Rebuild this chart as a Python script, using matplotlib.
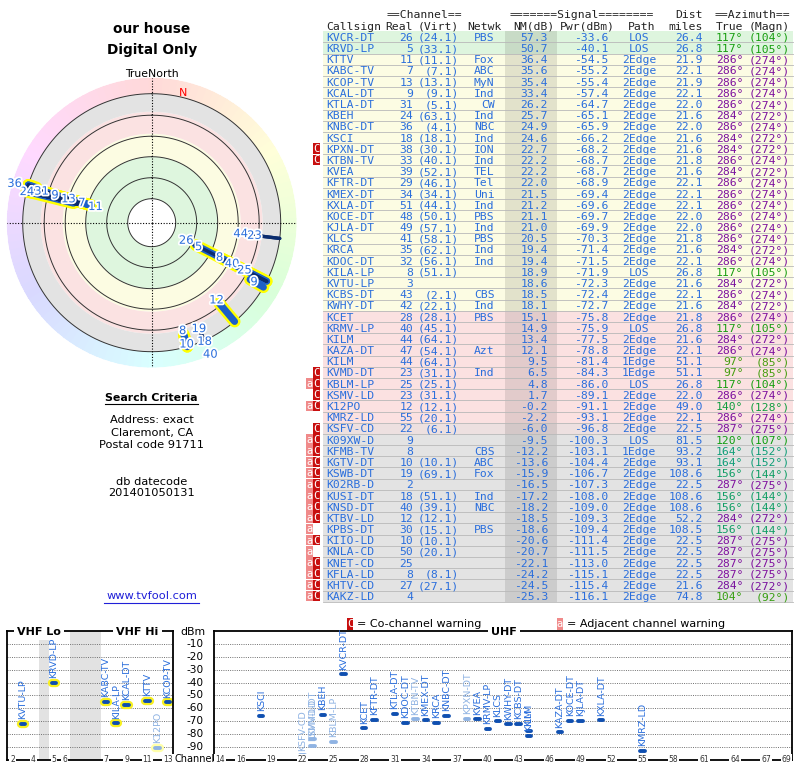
import numpy as np
import colorsys
import matplotlib
matplotlib.use("Agg")
import matplotlib.pyplot as plt
from matplotlib.patches import Rectangle
import matplotlib.patheffects as pe
from matplotlib.transforms import blended_transform_factory

# ---------------- data ----------------
callsigns = ["KVCR-DT", "KRVD-LP", "KTTV", "KABC-TV", "KCOP-TV", "KCAL-DT", "KTLA-DT", "KBEH",
             "KNBC-DT", "KSCI", "KPXN-DT", "KTBN-TV", "KVEA", "KFTR-DT", "KMEX-DT", "KXLA-DT",
             "KOCE-DT", "KJLA-DT", "KLCS", "KRCA", "KDOC-DT", "KILA-LP", "KVTU-LP", "KCBS-DT",
             "KWHY-DT", "KCET", "KRMV-LP", "KILM", "KAZA-DT", "KILM", "KVMD-DT", "KBLM-LP",
             "KSMV-LD", "K12PO", "KMRZ-LD", "KSFV-CD", "K09XW-D", "KFMB-TV", "KGTV-DT", "KSWB-DT",
             "K02RB-D", "KUSI-DT", "KNSD-DT", "KTBV-LD", "KPBS-DT", "KIIO-LD", "KNLA-CD", "KNET-CD",
             "KFLA-LD", "KHTV-CD", "KAKZ-LD"]
real_ch = [26, 5, 11, 7, 13, 9, 31, 24, 36, 18, 38, 33, 39, 29, 34, 51, 48, 49, 41, 35, 32, 8, 3, 43,
           42, 28, 40, 44, 47, 44, 23, 25, 23, 12, 55, 22, 9, 8, 10, 19, 2, 18, 40, 12, 30, 10, 50, 25,
           8, 27, 4]
virt_ch = ["24.1", "33.1", "11.1", "7.1", "13.1", "9.1", "5.1", "63.1", "4.1", "18.1", "30.1", "40.1",
           "52.1", "46.1", "34.1", "44.1", "50.1", "57.1", "58.1", "62.1", "56.1", "51.1", "", "2.1",
           "22.1", "28.1", "45.1", "64.1", "54.1", "64.1", "31.1", "25.1", "31.1", "12.1", "20.1", "6.1",
           "", "", "10.1", "69.1", "", "51.1", "39.1", "12.1", "15.1", "10.1", "20.1", "", "8.1", "27.1", ""]
networks = ["PBS", "", "Fox", "ABC", "MyN", "Ind", "CW", "Ind", "NBC", "Ind", "ION", "Ind", "TEL", "Tel",
            "Uni", "Ind", "PBS", "Ind", "PBS", "Ind", "Ind", "", "", "CBS", "Ind", "PBS", "", "", "Azt",
            "", "Ind", "", "", "", "", "", "", "CBS", "ABC", "Fox", "", "Ind", "NBC", "", "PBS", "", "",
            "", "", "", ""]
nm_db = [57.3, 50.7, 36.4, 35.6, 35.4, 33.4, 26.2, 25.7, 24.9, 24.6, 22.7, 22.2, 22.2, 22.0, 21.5, 21.2,
         21.1, 21.0, 20.5, 19.4, 19.4, 18.9, 18.6, 18.5, 18.1, 15.1, 14.9, 13.4, 12.1, 9.5, 6.5, 4.8,
         1.7, -0.2, -2.2, -6.0, -9.5, -12.2, -13.6, -15.9, -16.5, -17.2, -18.2, -18.5, -18.6, -20.6,
         -20.7, -22.1, -24.2, -24.5, -25.3]
pwr_dbm = [-33.6, -40.1, -54.5, -55.2, -55.4, -57.4, -64.7, -65.1, -65.9, -66.2, -68.2, -68.7, -68.7,
           -68.9, -69.4, -69.6, -69.7, -69.9, -70.3, -71.4, -71.5, -71.9, -72.3, -72.4, -72.7, -75.8,
           -75.9, -77.5, -78.8, -81.4, -84.3, -86.0, -89.1, -91.1, -93.1, -96.8, -100.3, -103.1, -104.4,
           -106.7, -107.3, -108.0, -109.0, -109.3, -109.4, -111.4, -111.5, -113.0, -115.1, -115.4, -116.1]
paths = ["LOS", "LOS", "2Edge", "2Edge", "2Edge", "2Edge", "2Edge", "2Edge", "2Edge", "2Edge", "2Edge",
         "2Edge", "2Edge", "2Edge", "2Edge", "2Edge", "2Edge", "2Edge", "2Edge", "2Edge", "2Edge", "LOS",
         "2Edge", "2Edge", "2Edge", "2Edge", "LOS", "2Edge", "2Edge", "1Edge", "1Edge", "LOS", "2Edge",
         "2Edge", "2Edge", "2Edge", "LOS", "1Edge", "2Edge", "2Edge", "2Edge", "2Edge", "2Edge", "2Edge",
         "2Edge", "2Edge", "2Edge", "2Edge", "2Edge", "2Edge", "2Edge"]
dist_mi = [26.4, 26.8, 21.9, 22.1, 21.9, 22.1, 22.0, 21.6, 22.0, 21.6, 21.6, 21.8, 21.6, 22.1, 22.1, 22.1,
           22.0, 22.0, 21.8, 21.6, 22.1, 26.8, 21.6, 22.1, 21.6, 21.8, 26.8, 21.6, 22.1, 51.1, 51.1, 26.8,
           22.0, 49.0, 22.1, 22.5, 81.5, 93.2, 93.1, 108.6, 22.5, 108.6, 108.6, 52.2, 108.5, 22.5, 22.5,
           22.5, 22.5, 21.6, 74.8]
az_true = [117, 117, 286, 286, 286, 286, 286, 284, 286, 284, 284, 286, 284, 286, 286, 286, 286, 286, 286,
           284, 286, 117, 284, 286, 284, 286, 117, 284, 286, 97, 97, 117, 286, 140, 286, 287, 120, 164,
           164, 156, 287, 156, 156, 284, 156, 287, 287, 287, 287, 284, 104]
az_magn = [104, 105, 274, 274, 274, 274, 274, 272, 274, 272, 272, 274, 272, 274, 274, 274, 274, 274, 274,
           272, 274, 105, 272, 274, 272, 274, 105, 272, 274, 85, 85, 104, 274, 128, 274, 275, 107, 152,
           152, 144, 275, 144, 144, 272, 144, 275, 275, 275, 275, 272, 92]
warnings = ["", "", "", "", "", "", "", "", "", "", "C", "C", "", "", "", "", "", "", "", "", "", "", "",
            "", "", "", "", "", "", "", "C", "aC", "C", "aC", "", "C", "aC", "aC", "aC", "aC", "aC", "aC",
            "aC", "aC", "a", "aC", "a", "aC", "aC", "aC", "aC"]

vhf_ticks = [2, 4, 5, 6, 7, 9, 11, 13]
uhf_ticks = [14, 16, 19, 22, 25, 28, 31, 34, 37, 40, 43, 46, 49, 52, 55, 58, 61, 64, 67, 69]
dbm_ticks = [-10, -20, -30, -40, -50, -60, -70, -80, -90]

# ---------------- figure ----------------
W, H = 800, 768
fig = plt.figure(figsize=(W / 100, H / 100), dpi=100)
ax0 = fig.add_axes([0, 0, 1, 1])
ax0.set_xlim(0, W)
ax0.set_ylim(H, 0)
ax0.axis("off")

MONO = "DejaVu Sans Mono"
BLUE = "#2a6edc"


def ftxt(x, y, s, **kw):
    return fig.text(x / W, 1 - y / H, s, **kw)


def az_color(a, s=0.9, v=0.62):
    return colorsys.hsv_to_rgb((a % 360) / 360.0, s, v)


# ---------------- titles ----------------
ax0.text(151.7, 29, "our house", ha="center", va="center", fontsize=9.8, fontweight="bold")
ax0.text(151.7, 50, "Digital Only", ha="center", va="center", fontsize=9.8, fontweight="bold")
ax0.text(151.7, 74, "TrueNorth", ha="center", va="center", fontsize=7.8)

# ---------------- polar plot ----------------
cx, cy, R = 151.7, 222.7, 145.0
pax = fig.add_axes([(cx - R) / W, (H - cy - R) / H, 2 * R / W, 2 * R / H], projection="polar")
pax.set_theta_zero_location("N")
pax.set_theta_direction(-1)
pax.set_ylim(0, R)
pax.axis("off")

for k in range(120):
    b = k * 3
    pax.bar(np.deg2rad(b), 16, width=np.deg2rad(3.5), bottom=129, lw=0,
            color=colorsys.hsv_to_rgb(b / 360.0, 0.15, 1.0), zorder=0.5)
bands = [(0, 24, "white"), (24, 66, "#def6de"), (66, 89, "#fcfce2"), (89, 111, "#fbe2e2"),
         (111, 129, "#e3e3e3")]
for r0, r1, c in bands:
    pax.bar(0, r1 - r0, width=2 * np.pi, bottom=r0, color=c, lw=0, zorder=0.6)
tt = np.linspace(0, 2 * np.pi, 500)
for rr in [24, 45, 66, 86.5, 107.5, 129]:
    pax.plot(tt, np.full_like(tt, rr), color="#333333", lw=0.7, zorder=1)
for th in [0, 90, 180, 270]:
    pax.plot([np.deg2rad(th)] * 2, [0, R], color="black", lw=0.8, ls=(0, (1, 1.5)), zorder=1.2)
pax.text(np.deg2rad(13.5), 133, "N", color="red", fontsize=8, ha="center", va="center", zorder=2)


def r_of(nm):
    return float(np.interp(nm, [-25, -10, 5, 19, 36, 50, 60], [129, 114, 100, 80, 63, 50, 40]))


n = len(callsigns)
shown = [i for i in range(n) if nm_db[i] > -25]
vhf = [i for i in shown if real_ch[i] <= 13]
uhf = [i for i in shown if real_ch[i] > 13]
for i in vhf:
    th = np.deg2rad(az_true[i])
    pax.plot([th, th], [r_of(nm_db[i]), 129], color="#ffff00", lw=8.5, solid_capstyle="round",
             zorder=2.8)
for i in vhf:
    th = np.deg2rad(az_true[i])
    pax.plot([th, th], [r_of(nm_db[i]), 129], color="#1c5fc8", lw=5.0, solid_capstyle="round",
             zorder=3)
for i in uhf:
    th = np.deg2rad(az_true[i])
    pax.plot([th, th], [r_of(nm_db[i]), 129], color="#0b2c6e", lw=2.4, solid_capstyle="round",
             zorder=3.2)

# label placement, grouped by direction
order = sorted(shown, key=lambda i: az_true[i])
groups, cur = [], [order[0]]
for i in order[1:]:
    if az_true[i] - az_true[cur[-1]] <= 4:
        cur.append(i)
    else:
        groups.append(cur)
        cur = [i]
groups.append(cur)
for g in groups:
    g = sorted(g, key=lambda i: -nm_db[i])
    prev = -1e9
    for i in g:
        rl = max(r_of(nm_db[i]) - 4, prev + 14)
        if rl > 145:
            break
        prev = rl
        pax.text(np.deg2rad(az_true[i]), rl, str(real_ch[i]), color=BLUE, fontsize=8.3,
                 ha="center", va="center", zorder=5,
                 path_effects=[pe.withStroke(linewidth=2.6, foreground="white")])

# ---------------- search criteria ----------------
ax0.text(151.7, 398, "Search Criteria", ha="center", va="center", fontsize=7.9, fontweight="bold")
ax0.plot([105, 198], [403.8, 403.8], color="black", lw=0.8)
for yy, s in [(420, "Address: exact"), (432.7, "Claremont, CA"), (445, "Postal code 91711"),
              (482, "db datecode"), (493.5, "201401050131")]:
    ax0.text(151.7, yy, s, ha="center", va="center", fontsize=8.2)
ax0.text(151.7, 596, "www.tvfool.com", ha="center", va="center", fontsize=8.2, color="#2020d8")
ax0.plot([104, 199], [602.5, 602.5], color="#2020d8", lw=0.8)

# ---------------- table ----------------
fs_t = 8.2
hdr1 = [(424, "==Channel==", "center"), (581.7, "=======Signal========", "center"),
        (703, "Dist", "right"), (790, "==Azimuth==", "right")]
hdr2 = [(326, "Callsign", "left"), (413, "Real", "right"), (459, "(Virt)", "right"),
        (502, "Netwk", "right"), (555, "NM(dB)", "right"), (615, "Pwr(dBm)", "right"),
        (642, "Path", "center"), (703, "miles", "right"), (743.5, "True", "right"),
        (790, "(Magn)", "right")]
for x, s, ha in hdr1:
    ax0.text(x, 14 + 4.1, s, ha=ha, va="baseline", family=MONO, fontsize=fs_t, color="#222222")
for x, s, ha in hdr2:
    ax0.text(x, 25.5 + 4.1, s, ha=ha, va="baseline", family=MONO, fontsize=fs_t, color="#222222")

zone_cols = {"g": ("#def5de", "#c8dbc6"), "y": ("#fcfce3", "#e2e2cb"), "p": ("#fbe1e1", "#e2cbcb"),
             "pg": ("#ede0e0", "#d4c8c8"), "k": ("#e3e3e3", "#cccccc")}


def zone(nm):
    if nm >= 40:
        return "g"
    if nm >= 16:
        return "y"
    if nm >= -3:
        return "p"
    if nm >= -8:
        return "pg"
    return "k"


row_y0, row_h = 36.8, 11.186
for i in range(n):
    yc = row_y0 + i * row_h
    bg, bd = zone_cols[zone(nm_db[i])]
    ax0.add_patch(Rectangle((323, yc - row_h / 2), 470, row_h, facecolor=bg, lw=0, zorder=0.5))
    ax0.add_patch(Rectangle((505, yc - row_h / 2), 52, row_h, facecolor=bd, lw=0, zorder=0.6))
    ax0.plot([323, 793], [yc + row_h / 2] * 2, color="#b8b8b8", lw=0.6, zorder=0.7)
    w = warnings[i]
    if "a" in w:
        ax0.add_patch(Rectangle((306, yc - 5.3), 6.6, 10.6, facecolor="#f08a8a", lw=0, zorder=1))
        ax0.text(309.3, yc + 3.4, "a", ha="center", va="baseline", family=MONO, fontsize=7.5,
                 color="white", zorder=2)
    if "C" in w:
        ax0.add_patch(Rectangle((312.7, yc - 5.3), 6.8, 10.6, facecolor="#c80f0f", lw=0, zorder=1))
        ax0.text(316.1, yc + 3.4, "C", ha="center", va="baseline", family=MONO, fontsize=7.5,
                 color="white", zorder=2)
    yb = yc + 4.1
    kw = dict(va="baseline", family=MONO, fontsize=fs_t, color=BLUE, zorder=2)
    ax0.text(326, yb, callsigns[i], ha="left", **kw)
    ax0.text(413, yb, str(real_ch[i]), ha="right", **kw)
    if virt_ch[i]:
        ax0.text(459, yb, "(" + virt_ch[i] + ")", ha="right", **kw)
    ax0.text(494.5, yb, networks[i], ha="right", **kw)
    ax0.text(548, yb, f"{nm_db[i]:.1f}", ha="right", **kw)
    ax0.text(608, yb, f"{pwr_dbm[i]:.1f}", ha="right", **kw)
    ax0.text(639.3, yb, paths[i], ha="center", **kw)
    ax0.text(703, yb, f"{dist_mi[i]:.1f}", ha="right", **kw)
    kw2 = dict(kw)
    kw2["color"] = az_color(az_true[i])
    ax0.text(743.5, yb, f"{az_true[i]}\u00b0", ha="right", **kw2)
    ax0.text(790, yb, f"({az_magn[i]}\u00b0)", ha="right", **kw2)

# ---------------- spectrum ----------------
y_top, y_bot = 631.2, 759.5
rect_b = (H - y_bot) / H
rect_h = (y_bot - y_top) / H
axV = fig.add_axes([7 / W, rect_b, 166 / W, rect_h])
axU = fig.add_axes([214 / W, rect_b, 578 / W, rect_h])
axV.set_xlim(-0.551, 15.49)
axU.set_xlim(13.417, 69.53)


def vslot(ch):
    if ch <= 4:
        return ch - 2
    if ch <= 6:
        return ch - 1
    return ch + 2


for ax in (axV, axU):
    ax.set_ylim(-100, 0)
    ax.set_xticks([])
    ax.set_yticks([])
    for sp in ax.spines.values():
        sp.set_linewidth(1.3)
        sp.set_color("black")
    for v in dbm_ticks:
        ax.axhline(v, color="#707070", lw=0.7, ls=(0, (1, 1.3)), zorder=1)
axV.axvspan(2.5, 3.5, color="#e2e2e2", lw=0, zorder=0.5)
axV.axvspan(5.5, 8.5, color="#e2e2e2", lw=0, zorder=0.5)

tick_kw = dict(ha="center", va="center", fontsize=5.5, color="#333333", clip_on=False, zorder=6,
               bbox=dict(facecolor="white", edgecolor="none", pad=0.6))
for ch in vhf_ticks:
    axV.text(vslot(ch), -100, str(ch), **tick_kw)
for ch in uhf_ticks:
    axU.text(ch, -100, str(ch), **tick_kw)

btr = blended_transform_factory(axV.transAxes, axV.transData)
for v in dbm_ticks:
    axV.text(1.1325, v, str(v), transform=btr, ha="center", va="center", fontsize=7.6,
             clip_on=False)

for i in range(n):
    p = pwr_dbm[i]
    if p <= -100:
        continue
    ch = real_ch[i]
    light = "C" in warnings[i]
    if ch <= 13:
        ax, x = axV, vslot(ch)
    else:
        ax, x = axU, ch
    core = "#8fb3e3" if light else "#0f4fb0"
    labc = "#8fb3e3" if light else BLUE
    if ch <= 13:
        ax.plot([x - 0.22, x + 0.22], [p, p], color="#ffffaa" if light else "#f8f020", lw=6.0,
                solid_capstyle="round", zorder=2)
    ax.plot([x - 0.22, x + 0.22], [p, p], color=core, lw=2.8, solid_capstyle="round", zorder=3)
    ax.annotate(callsigns[i], (x, p), xytext=(0, 3.4), textcoords="offset points", rotation=90,
                ha="center", va="bottom", fontsize=6.8, color=labc, zorder=4,
                annotation_clip=False)

# panel titles over the top border
tkw = dict(ha="center", va="center", fontsize=8, fontweight="bold", zorder=10,
           bbox=dict(facecolor="white", edgecolor="none", pad=2.5))
ftxt(39, 632, "VHF Lo", **tkw)
ftxt(137.5, 632, "VHF Hi", **tkw)
ftxt(504, 632, "UHF", **tkw)
ftxt(193, 632, "dBm", ha="center", va="center", fontsize=7.8, zorder=10)
ftxt(194.5, 759.5, "Channel", ha="center", va="center", fontsize=7, zorder=10)

# legend
ax0.add_patch(Rectangle((346.7, 618), 6.6, 11.5, facecolor="#c80f0f", lw=0))
ax0.text(350, 627.3, "C", ha="center", va="baseline", family=MONO, fontsize=7.5, color="white")
ax0.text(357, 624, "= Co-channel warning", ha="left", va="center", fontsize=8)
ax0.add_patch(Rectangle((556.5, 618), 6.6, 11.5, facecolor="#f08a8a", lw=0))
ax0.text(559.8, 627.3, "a", ha="center", va="baseline", family=MONO, fontsize=7.5, color="white")
ax0.text(567, 624, "= Adjacent channel warning", ha="left", va="center", fontsize=8)

fig.savefig("out.png", dpi=100)
